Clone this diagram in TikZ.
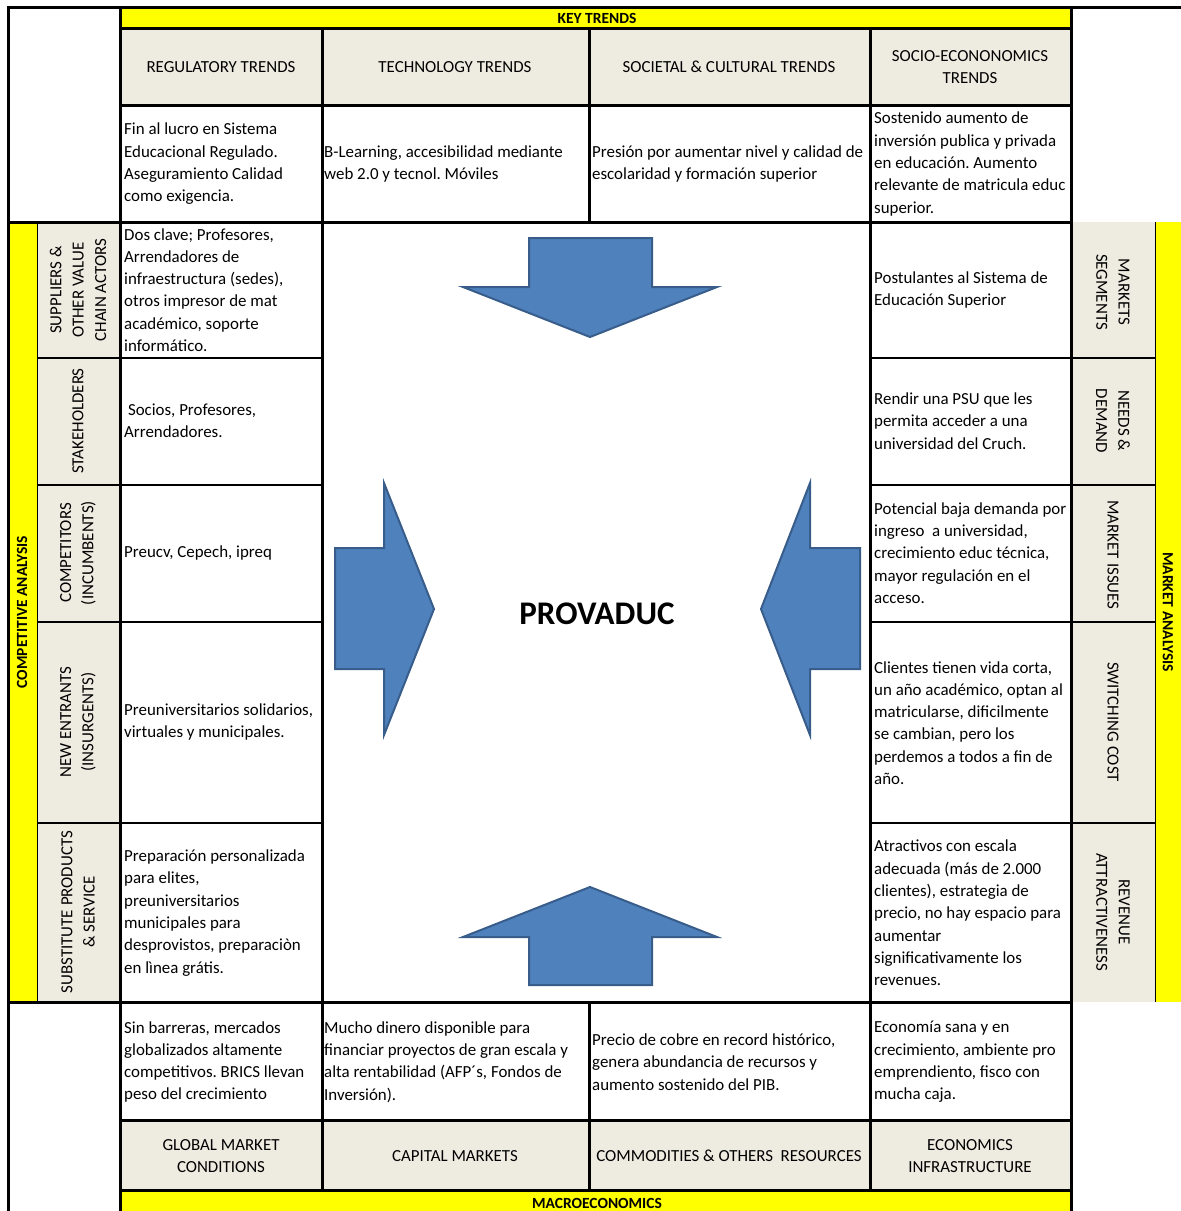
\documentclass[tikz,border=0pt]{standalone}
\usepackage{fontspec}
\setmainfont{Carlito}
\frenchspacing
\definecolor{tanbg}{RGB}{238,236,225}
\definecolor{ylw}{RGB}{255,255,0}
\definecolor{arrowfill}{RGB}{79,129,189}
\definecolor{arrowline}{RGB}{56,93,138}
\begin{document}
\begin{tikzpicture}[x=1pt,y=-1pt,
  major/.style={line width=3pt,line cap=rect},
  minor/.style={line width=2pt},
  hair/.style={line width=0.8pt},
  txt/.style={anchor=west,align=left,inner sep=0pt,font=\fontsize{16.9}{22.3}\selectfont},
  hdr/.style={align=center,inner sep=0pt,font=\fontsize{16.9}{22.3}\selectfont},
  band/.style={align=center,inner sep=0pt,font=\fontsize{15.5}{18}\selectfont\bfseries},
  lbl/.style={align=center,inner sep=0pt,font=\fontsize{16.9}{22.3}\selectfont},
  bigarrow/.style={fill=arrowfill,draw=arrowline,line width=2pt,line join=miter}]
\useasboundingbox (0,0) rectangle (1181,1211);
% fills
\fill[ylw] (120,7) rectangle (1071,28);
\fill[tanbg] (120,28) rectangle (1071,105);
\fill[ylw] (8,222) rectangle (37,1002);
\fill[tanbg] (37,222) rectangle (120,1002);
\fill[tanbg] (1071,222) rectangle (1155,1002);
\fill[ylw] (1155,222) rectangle (1181,1002);
\fill[tanbg] (120,1120) rectangle (1071,1190);
\fill[ylw] (120,1190) rectangle (1071,1211);
% thin dividers
\draw[hair] (37,222) -- (37,1002);
\draw[hair] (1155,222) -- (1155,1002);
% row lines
\foreach \yy in {358,485,622,823}{
  \draw[minor] (37,\yy) -- (322,\yy);
  \draw[minor] (870,\yy) -- (1155,\yy);
}
% major lines
\draw[major] (8,7) -- (1181,7);
\draw[major] (8,7) -- (8,1211);
\draw[major] (120,7) -- (120,1211);
\draw[major] (1071,7) -- (1071,1211);
\draw[major] (120,28) -- (1071,28);
\draw[major] (120,105) -- (1071,105);
\draw[major] (8,222) -- (1071,222);
\draw[major] (8,1002) -- (1071,1002);
\draw[major] (120,1120) -- (1071,1120);
\draw[major] (120,1190) -- (1071,1190);
\draw[major] (322,28) -- (322,1190);
\draw[major] (870,28) -- (870,1190);
\draw[major] (589,28) -- (589,222);
\draw[major] (589,1002) -- (589,1190);
% arrows
\draw[bigarrow] (529,238) -- (652,238) -- (652,287) -- (717,287) -- (590,337) -- (463,287) -- (529,287) -- cycle;
\draw[bigarrow] (529,985) -- (652,985) -- (652,937) -- (717,937) -- (590,887) -- (463,937) -- (529,937) -- cycle;
\draw[bigarrow] (335,548) -- (384,548) -- (384,483) -- (434,609) -- (384,735) -- (384,669) -- (335,669) -- cycle;
\draw[bigarrow] (860,548) -- (810,548) -- (810,483) -- (761,609) -- (810,735) -- (810,669) -- (860,669) -- cycle;
% bands
\node[band] (keytrends) at (597,18) {KEY TRENDS};
\node[band] (macro) at (597,1203) {MACROECONOMICS};
\node[band,rotate=90] (compan) at (22,612) {COMPETITIVE ANALYSIS};
\node[band,rotate=-90] (markan) at (1168,612) {MARKET ANALYSIS};
% top headers
\node[hdr] (h1) at (221,67) {REGULATORY TRENDS};
\node[hdr] (h2) at (455,67) {TECHNOLOGY TRENDS};
\node[hdr] (h3) at (729,67) {SOCIETAL \& CULTURAL TRENDS};
\node[hdr] (h4) at (970,67) {SOCIO-ECONONOMICS\\TRENDS};
% bottom headers
\node[hdr] (f1) at (221,1156) {GLOBAL MARKET\\CONDITIONS};
\node[hdr] (f2) at (455,1156) {CAPITAL MARKETS};
\node[hdr] (f3) at (729,1156) {COMMODITIES \& OTHERS\ \ RESOURCES};
\node[hdr] (f4) at (970,1156) {ECONOMICS\\INFRASTRUCTURE};
% top texts
\node[txt] (t1) at (124,164) {Fin al lucro en Sistema\\Educacional Regulado.\\Aseguramiento Calidad\\como exigencia.};
\node[txt] (t2) at (324,164) {B-Learning, accesibilidad mediante\\web 2.0 y tecnol. Móviles};
\node[txt] (t3) at (592,164) {Presión por aumentar nivel y calidad de\\escolaridad y formación superior};
\node[txt] (t4) at (874,164) {Sostenido aumento de\\inversión publica y privada\\en educación. Aumento\\relevante de matricula educ\\superior.};
% left labels
\node[lbl,rotate=90] (ll1) at (78,290) {SUPPLIERS \&\\OTHER VALUE\\CHAIN ACTORS};
\node[lbl,rotate=90] (ll2) at (78,421) {STAKEHOLDERS};
\node[lbl,rotate=90] (ll3) at (78,553) {COMPETITORS\\(INCUMBENTS)};
\node[lbl,rotate=90] (ll4) at (78,722) {NEW ENTRANTS\\(INSURGENTS)};
\node[lbl,rotate=90] (ll5) at (78,912) {SUBSTITUTE PRODUCTS\\\& SERVICE};
% left texts
\node[txt] (l1) at (124,290) {Dos clave; Profesores,\\Arrendadores de\\infraestructura (sedes),\\otros impresor de mat\\académico, soporte\\informático.};
\node[txt] (l2) at (124,421) {\ Socios, Profesores,\\Arrendadores.};
\node[txt] (l3) at (124,553) {Preucv, Cepech, ipreq};
\node[txt] (l4) at (124,722) {Preuniversitarios solidarios,\\virtuales y municipales.};
\node[txt] (l5) at (124,913) {Preparación personalizada\\para elites,\\preuniversitarios\\municipales para\\desprovistos, preparaciòn\\en lìnea grátis.};
% right labels
\node[lbl,rotate=-90] (rl1) at (1113,292) {MARKETS\\SEGMENTS};
\node[lbl,rotate=-90] (rl2) at (1113,421) {NEEDS \&\\DEMAND};
\node[lbl,rotate=-90] (rl3) at (1113,555) {MARKET ISSUES};
\node[lbl,rotate=-90] (rl4) at (1113,722) {SWITCHING COST};
\node[lbl,rotate=-90] (rl5) at (1113,912) {REVENUE\\ATTRACTIVENESS};
% right texts
\node[txt] (r1) at (874,290) {Postulantes al Sistema de\\Educación Superior};
\node[txt] (r2) at (874,421) {Rendir una PSU que les\\permita acceder a una\\universidad del Cruch.};
\node[txt] (r3) at (874,553) {Potencial baja demanda por\\ingreso\ \ a universidad,\\crecimiento educ técnica,\\mayor regulación en el\\acceso.};
\node[txt] (r4) at (874,723) {Clientes tienen vida corta,\\un año académico, optan al\\matricularse, dificilmente\\se cambian, pero los\\perdemos a todos a fin de\\año.};
\node[txt] (r5) at (874,913) {Atractivos con escala\\adecuada (más de 2.000\\clientes), estrategia de\\precio, no hay espacio para\\aumentar\\significativamente los\\revenues.};
% bottom texts
\node[txt] (b1) at (124,1062) {Sin barreras, mercados\\globalizados altamente\\competitivos. BRICS llevan\\peso del crecimiento};
\node[txt] (b2) at (324,1062) {Mucho dinero disponible para\\financiar proyectos de gran escala y\\alta rentabilidad (AFP´s, Fondos de\\Inversión).};
\node[txt] (b3) at (592,1062) {Precio de cobre en record histórico,\\genera abundancia de recursos y\\aumento sostenido del PIB.};
\node[txt] (b4) at (874,1062) {Economía sana y en\\crecimiento, ambiente pro\\emprendiento, fisco con\\mucha caja.};
% center
\node[inner sep=0pt,font=\fontsize{33}{38}\selectfont\bfseries] (center) at (597,614) {PROVADUC};
\end{tikzpicture}
\end{document}
